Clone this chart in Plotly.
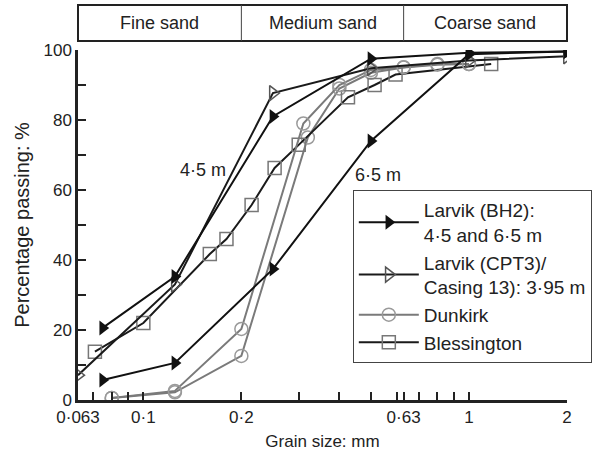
import math
import plotly.graph_objects as go

# ---------------- data ----------------
bh2_45_size = [0.075, 0.125, 0.25, 0.5, 1.0, 2.0]
bh2_45_pass = [20.6, 35.3, 81.0, 97.5, 99.2, 99.6]
bh2_65_size = [0.075, 0.125, 0.25, 0.5, 1.0, 2.0]
bh2_65_pass = [5.7, 10.6, 37.4, 74.0, 98.8, 99.6]
cpt3_size = [0.063, 0.125, 0.25, 0.5, 1.0, 2.0]
cpt3_pass = [7.1, 33.0, 87.7, 94.8, 97.0, 98.2]
dunk_a_size = [0.08, 0.125, 0.2, 0.31, 0.4, 0.5, 0.63, 0.8, 1.0]
dunk_a_pass = [0.6, 2.6, 20.3, 79.0, 90.0, 94.3, 95.1, 96.0, 96.0]
dunk_b_size = [0.08, 0.125, 0.2, 0.32, 0.4, 0.5, 0.63, 0.8, 1.0]
dunk_b_pass = [0.6, 2.2, 12.6, 75.0, 89.0, 93.5, 95.0, 95.8, 96.0]
bless_size = [0.071, 0.1, 0.16, 0.18, 0.215, 0.253, 0.30, 0.425, 0.513, 0.595, 1.17]
bless_pass = [13.8, 22.0, 41.7, 46.0, 55.7, 66.3, 72.9, 86.5, 90.0, 93.0, 96.0]

x_tick_vals = [0.063, 0.1, 0.2, 0.63, 1, 2]
x_tick_text = ["0·063", "0·1", "0·2", "0·63", "1", "2"]
x_minor_vals = [0.07, 0.08, 0.09, 0.3, 0.4, 0.5, 0.6, 0.7, 0.8, 0.9]
band_edges = [0.063, 0.2, 0.63, 2]
band_labels = ["Fine sand", "Medium sand", "Coarse sand"]

FONT = "Liberation Sans, Arial, sans-serif"
TXT = "#222222"
LX0, LX1 = math.log10(band_edges[0]), math.log10(band_edges[-1])


def frac(v):
    return (math.log10(v) - LX0) / (LX1 - LX0)


fig = go.Figure()

fig.add_trace(go.Scatter(
    x=dunk_b_size, y=dunk_b_pass, mode="lines+markers", showlegend=False,
    line=dict(color="#7a7a7a", width=2),
    marker=dict(symbol="circle-open", size=13, color="#9a9a9a", line=dict(width=1.5)),
))
fig.add_trace(go.Scatter(
    x=bless_size, y=bless_pass, mode="lines+markers", name="Blessington",
    line=dict(color="#1a1a1a", width=2),
    marker=dict(symbol="square-open", size=13, color="#777777", line=dict(width=1.5)),
    legendrank=4,
))
fig.add_trace(go.Scatter(
    x=dunk_a_size, y=dunk_a_pass, mode="lines+markers", name="Dunkirk",
    line=dict(color="#7a7a7a", width=2),
    marker=dict(symbol="circle-open", size=13, color="#9a9a9a", line=dict(width=1.5)),
    legendrank=3,
))
fig.add_trace(go.Scatter(
    x=cpt3_size, y=cpt3_pass, mode="lines+markers",
    name="Larvik (CPT3)/<br>Casing 13): 3·95 m",
    line=dict(color="#1a1a1a", width=2),
    marker=dict(symbol="triangle-right-open", size=13, color="#555555", line=dict(width=1.5)),
    legendrank=2,
))
fig.add_trace(go.Scatter(
    x=bh2_65_size, y=bh2_65_pass, mode="lines+markers", showlegend=False,
    line=dict(color="#111111", width=2),
    marker=dict(symbol="triangle-right", size=13, color="#111111"),
))
fig.add_trace(go.Scatter(
    x=bh2_45_size, y=bh2_45_pass, mode="lines+markers",
    name="Larvik (BH2):<br>4·5 and 6·5 m",
    line=dict(color="#111111", width=2),
    marker=dict(symbol="triangle-right", size=13, color="#111111"),
    legendrank=1,
))

# Sand-size band above the plot
BAND_Y0, BAND_Y1 = 1.0257, 1.1286
fig.add_shape(type="rect", xref="paper", yref="paper", x0=0, x1=1,
              y0=BAND_Y0, y1=BAND_Y1, line=dict(color="#222222", width=2))
for e in band_edges[1:-1]:
    fig.add_shape(type="line", xref="paper", yref="paper", x0=frac(e), x1=frac(e),
                  y0=BAND_Y0, y1=BAND_Y1, line=dict(color="#444444", width=1))
for i, lab in enumerate(band_labels):
    xm = (frac(band_edges[i]) + frac(band_edges[i + 1])) / 2
    fig.add_annotation(x=xm, y=(BAND_Y0 + BAND_Y1) / 2, xref="paper", yref="paper", text=lab,
                       xanchor="center", yanchor="middle",
                       showarrow=False, font=dict(size=18, color=TXT, family=FONT))

fig.add_annotation(x=math.log10(0.153), y=65.7, text="4·5 m", showarrow=False,
                   xanchor="center", yanchor="middle",
                   font=dict(size=18, color=TXT, family=FONT))
fig.add_annotation(x=math.log10(0.525), y=64.3, text="6·5 m", showarrow=False,
                   xanchor="center", yanchor="middle",
                   font=dict(size=18, color=TXT, family=FONT))

fig.update_xaxes(
    type="log", range=[LX0, LX1], automargin=False,
    tickvals=x_tick_vals, ticktext=x_tick_text, ticks="inside", ticklen=8,
    tickwidth=2, tickcolor="#222222",
    minor=dict(tickvals=x_minor_vals, ticks="inside", ticklen=8, tickwidth=2,
               tickcolor="#222222", showgrid=False),
    showline=True, linecolor="#222222", linewidth=2.5, showgrid=False, zeroline=False,
    title=dict(text="Grain size: mm", font=dict(size=17, family=FONT, color=TXT), standoff=9),
    tickfont=dict(size=17, family=FONT, color=TXT),
)
fig.update_yaxes(
    range=[0, 100], dtick=20, ticks="inside", ticklen=8, tickwidth=2, tickcolor="#222222",
    automargin=False,
    minor=dict(dtick=10, ticks="inside", ticklen=8, tickwidth=2, tickcolor="#222222", showgrid=False),
    showline=True, linecolor="#222222", linewidth=2.5, showgrid=False, zeroline=False,
    title=dict(text="Percentage passing: %", font=dict(size=20, family=FONT, color=TXT), standoff=9),
    tickfont=dict(size=17, family=FONT, color=TXT),
)

fig.update_layout(
    width=600, height=457,
    margin=dict(l=78, r=33, t=50, b=57, autoexpand=False),
    paper_bgcolor="white", plot_bgcolor="white",
    font=dict(family=FONT, size=17, color=TXT),
    legend=dict(x=0.562, y=0.6, xanchor="left", yanchor="top",
                bordercolor="#444444", borderwidth=1, bgcolor="white",
                font=dict(size=19, family=FONT, color=TXT),
                itemwidth=60, traceorder="normal"),
)

fig.write_html("out.html", config={"displayModeBar": False},
               post_script="document.body.style.margin='0';document.body.style.overflow='hidden';")
